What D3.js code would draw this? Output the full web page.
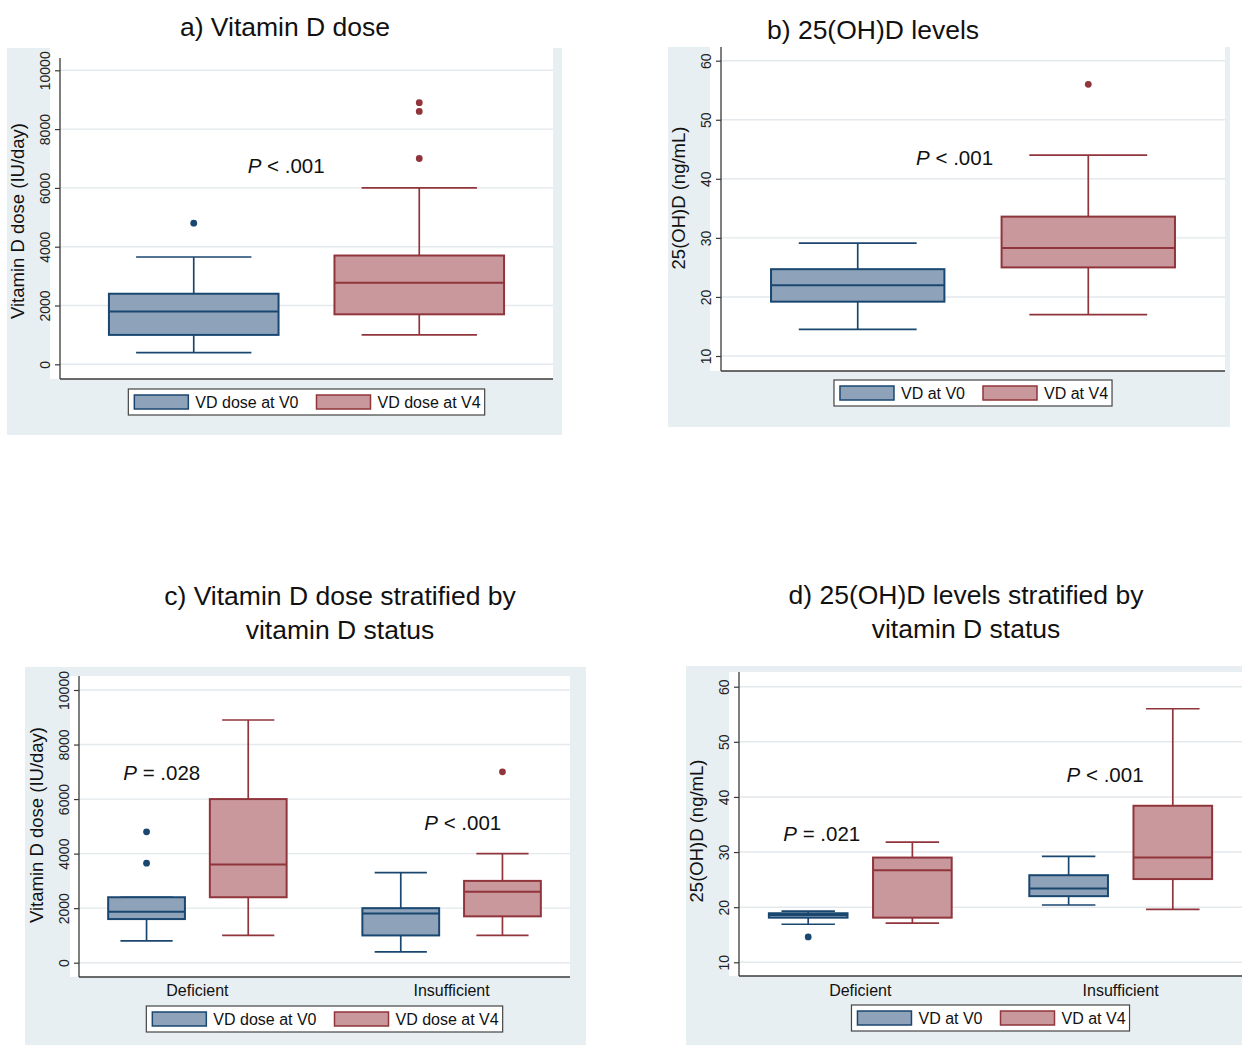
<!DOCTYPE html>
<html>
<head>
<meta charset="utf-8">
<script src="https://cdn.jsdelivr.net/npm/d3@7"></script>
<style>
body { margin: 0; background: #fff; }
svg { display: block; font-family: "Liberation Sans", Arial, sans-serif; }
</style>
</head>
<body>
<script>

// tick labels
var doseTicks = [0, 2000, 4000, 6000, 8000, 10000];
var levelTicks = [10, 20, 30, 40, 50, 60];

// series and categories
var doseSeries = ["VD dose at V0", "VD dose at V4"];
var levelSeries = ["VD at V0", "VD at V4"];
var statusCats = ["Deficient", "Insufficient"];

// box stats: [lower whisker, q1, median, q3, upper whisker]
var doseAll = [[400, 1000, 1800, 2400, 3650], [1000, 1700, 2770, 3700, 6000]];
var doseAllOut = [[4800], [7000, 8600, 8900]];

var levelAll = [[14.5, 19.2, 22.0, 24.7, 29.1], [17, 25, 28.3, 33.6, 44]];
var levelAllOut = [[], [56]];

// by status, one entry per category (Deficient, Insufficient)
var doseV0ByStatus = [[800, 1600, 1870, 2400, 2400], [400, 1000, 1800, 2000, 3300]];
var doseV4ByStatus = [[1000, 2400, 3600, 6000, 8900], [1000, 1700, 2600, 3000, 4000]];
var doseV0ByStatusOut = [[3650, 4800], []];
var doseV4ByStatusOut = [[], [7000]];

var levelV0ByStatus = [[16.9, 18.1, 18.6, 18.9, 19.3], [20.4, 22.0, 23.4, 25.8, 29.2]];
var levelV4ByStatus = [[17.1, 18.1, 26.7, 29.0, 31.8], [19.6, 25.1, 29.0, 38.4, 56.0]];
var levelV0ByStatusOut = [[14.6], []];
var levelV4ByStatusOut = [[], []];

// p-value notes: "at" is the height on the y scale, "between" goes from the V0 box (0) to the V4 box (1)
var pDose = [{ cat: null, op: "<", p: ".001", at: 6500, between: 0.41 }];
var pLevel = [{ cat: null, op: "<", p: ".001", at: 42.3, between: 0.42 }];
var pDoseStatus = [
    { cat: "Deficient", op: "=", p: ".028", at: 6700, between: 0.15 },
    { cat: "Insufficient", op: "<", p: ".001", at: 4850, between: 0.61 }
];
var pLevelStatus = [
    { cat: "Deficient", op: "=", p: ".021", at: 32.0, between: 0.13 },
    { cat: "Insufficient", op: "<", p: ".001", at: 42.7, between: 0.35 }
];

var BG = "#e8eff2",
    GRID = "#e3e9ec",
    AXIS = "#3a3a3a",
    STROKES = ["#1a476f", "#90353b"],
    FILLS = ["#8ea3ba", "#c9989d"];

var svg = d3.select("body").append("svg")
    .attr("width", 1242)
    .attr("height", 1045);

function boxesFlat(series, stats, outs) {
    return series.map(function(s, i) {
        return { cat: null, series: s, idx: i, stats: stats[i], out: outs[i] };
    });
}

function boxesByCat(series, statsBySeries, outsBySeries) {
    var list = [];
    statusCats.forEach(function(c, ci) {
        series.forEach(function(s, i) {
            list.push({ cat: c, series: s, idx: i, stats: statsBySeries[i][ci], out: outsBySeries[i][ci] });
        });
    });
    return list;
}

function drawPanel(p) {
    var g = svg.append("g");

    g.append("rect")
        .attr("x", p.bg[0]).attr("y", p.bg[1])
        .attr("width", p.bg[2] - p.bg[0]).attr("height", p.bg[3] - p.bg[1])
        .attr("fill", BG);
    g.append("rect")
        .attr("x", p.white[0]).attr("y", p.white[1])
        .attr("width", p.white[2] - p.white[0]).attr("height", p.white[3] - p.white[1])
        .attr("fill", "#fff");

    var right = p.white[2], bottom = p.white[3];
    var y = d3.scaleLinear().domain(p.yDomain).range(p.yRange);

    // x position of a box
    var outer, inner;
    if (p.cats) {
        outer = d3.scaleBand().domain(p.cats).range([p.axisX, right])
            .paddingInner(0.2).paddingOuter(0.0657);
        inner = d3.scaleBand().domain(p.series).range([0, outer.bandwidth()])
            .paddingInner(0.245).paddingOuter(0.1225);
    } else {
        inner = d3.scaleBand().domain(p.series).range([p.axisX, right])
            .paddingInner(0.248).paddingOuter(0.217);
    }
    var bw = inner.bandwidth();
    function cx(cat, s) {
        return (cat ? outer(cat) : 0) + inner(s) + bw / 2;
    }

    // grid
    g.append("g").selectAll("line")
        .data(p.ticks)
        .join("line")
        .attr("x1", p.axisX).attr("x2", right)
        .attr("y1", function(d) { return y(d); })
        .attr("y2", function(d) { return y(d); })
        .attr("stroke", GRID)
        .attr("stroke-width", 1.4);

    // y axis
    var ax = g.append("g")
        .attr("transform", "translate(" + p.axisX + ",0)")
        .call(d3.axisLeft(y).tickValues(p.ticks).tickFormat(d3.format("d")).tickSize(5).tickSizeOuter(0))
        .attr("font-size", null)
        .attr("font-family", null);
    ax.select(".domain").remove();
    ax.selectAll(".tick line").attr("stroke", AXIS).attr("stroke-width", 1.2);
    ax.selectAll(".tick text")
        .attr("transform", "rotate(-90)")
        .attr("x", 0).attr("y", -10).attr("dy", 0)
        .attr("text-anchor", "middle")
        .attr("font-size", 14)
        .attr("fill", "#222");

    g.append("line")
        .attr("x1", p.axisX).attr("x2", p.axisX)
        .attr("y1", p.axisTop).attr("y2", bottom)
        .attr("stroke", AXIS).attr("stroke-width", 1.3);
    g.append("line")
        .attr("x1", p.axisX).attr("x2", right)
        .attr("y1", bottom).attr("y2", bottom)
        .attr("stroke", AXIS).attr("stroke-width", 1.3);

    g.append("text")
        .attr("transform", "translate(" + (p.axisX - 36) + "," + p.labelY + ") rotate(-90)")
        .attr("text-anchor", "middle")
        .attr("font-size", 18.5)
        .attr("fill", "#111")
        .text(p.yLabel);

    // title
    p.title.forEach(function(t, i) {
        g.append("text")
            .attr("x", p.titleX).attr("y", p.titleY[i])
            .attr("text-anchor", "middle")
            .attr("font-size", 26.5)
            .attr("fill", "#111")
            .text(t);
    });

    // category labels
    if (p.cats) {
        g.append("g").selectAll("text")
            .data(p.cats)
            .join("text")
            .attr("x", function(d) { return outer(d) + outer.bandwidth() / 2; })
            .attr("y", p.catLabelY)
            .attr("text-anchor", "middle")
            .attr("font-size", 16)
            .attr("fill", "#111")
            .text(function(d) { return d; });
    }

    // boxes
    var box = g.append("g").selectAll("g")
        .data(p.boxes)
        .join("g");

    box.each(function(d) {
        var b = d3.select(this);
        var x0 = cx(d.cat, d.series);
        var st = d.stats;
        var col = STROKES[d.idx];
        var cap = bw * 0.68;

        b.append("line")
            .attr("x1", x0).attr("x2", x0)
            .attr("y1", y(st[0])).attr("y2", y(st[1]))
            .attr("stroke", col).attr("stroke-width", 1.7);
        b.append("line")
            .attr("x1", x0).attr("x2", x0)
            .attr("y1", y(st[3])).attr("y2", y(st[4]))
            .attr("stroke", col).attr("stroke-width", 1.7);
        [st[0], st[4]].forEach(function(v) {
            b.append("line")
                .attr("x1", x0 - cap / 2).attr("x2", x0 + cap / 2)
                .attr("y1", y(v)).attr("y2", y(v))
                .attr("stroke", col).attr("stroke-width", 1.7);
        });
        b.append("rect")
            .attr("x", x0 - bw / 2).attr("y", y(st[3]))
            .attr("width", bw).attr("height", y(st[1]) - y(st[3]))
            .attr("fill", FILLS[d.idx])
            .attr("stroke", col).attr("stroke-width", 2);
        b.append("line")
            .attr("x1", x0 - bw / 2).attr("x2", x0 + bw / 2)
            .attr("y1", y(st[2])).attr("y2", y(st[2]))
            .attr("stroke", col).attr("stroke-width", 2);
        b.selectAll("circle")
            .data(d.out)
            .join("circle")
            .attr("cx", x0)
            .attr("cy", function(v) { return y(v); })
            .attr("r", 3.4)
            .attr("fill", col);
    });

    // p-values
    p.notes.forEach(function(n) {
        var a = cx(n.cat, p.series[0]), b2 = cx(n.cat, p.series[1]);
        var t = g.append("text")
            .attr("x", a + (b2 - a) * n.between)
            .attr("y", y(n.at))
            .attr("text-anchor", "middle")
            .attr("font-size", 20.5)
            .attr("fill", "#111")
            .style("white-space", "pre");
        t.append("tspan").attr("font-style", "italic").text("P");
        t.append("tspan").text(" " + n.op + " " + n.p);
    });

    // legend
    var lg = g.append("g");
    var frame = lg.append("rect");
    var items = p.series.map(function(s, i) {
        var sw = lg.append("rect")
            .attr("width", 54).attr("height", 14)
            .attr("fill", FILLS[i])
            .attr("stroke", STROKES[i]).attr("stroke-width", 1.5);
        var tx = lg.append("text")
            .attr("font-size", 16)
            .attr("fill", "#111")
            .text(s);
        return { sw: sw, tx: tx, w: tx.node().getComputedTextLength() };
    });
    var total = 6 + items[0].w + items[1].w + 2 * (54 + 7) + 18 + 4;
    var lx = (p.axisX + right) / 2 - total / 2;
    var ly = p.legendTop;
    frame.attr("x", lx).attr("y", ly)
        .attr("width", total).attr("height", 26)
        .attr("fill", "#fff")
        .attr("stroke", "#444").attr("stroke-width", 1.2);
    var cur = lx + 6;
    items.forEach(function(it, i) {
        it.sw.attr("x", cur).attr("y", ly + 6);
        cur += 54 + 7;
        it.tx.attr("x", cur).attr("y", ly + 18.5);
        cur += it.w + 18;
    });
}

drawPanel({
    bg: [7, 48, 562, 435], white: [50, 48, 553, 379],
    axisX: 60, axisTop: 58,
    yDomain: [0, 10000], yRange: [364.3, 70.3], ticks: doseTicks,
    yLabel: "Vitamin D dose (IU/day)", labelY: 221,
    title: ["a) Vitamin D dose"], titleX: 285, titleY: [36],
    cats: null, series: doseSeries,
    boxes: boxesFlat(doseSeries, doseAll, doseAllOut),
    notes: pDose, legendTop: 389
});

drawPanel({
    bg: [668, 47, 1230, 427], white: [710, 47, 1225, 371],
    axisX: 721, axisTop: 47,
    yDomain: [10, 60], yRange: [356, 60.7], ticks: levelTicks,
    yLabel: "25(OH)D (ng/mL)", labelY: 198,
    title: ["b) 25(OH)D levels"], titleX: 873, titleY: [39],
    cats: null, series: levelSeries,
    boxes: boxesFlat(levelSeries, levelAll, levelAllOut),
    notes: pLevel, legendTop: 380
});

drawPanel({
    bg: [25, 667, 586, 1045], white: [70, 676, 570, 977],
    axisX: 79, axisTop: 676,
    yDomain: [0, 10000], yRange: [962.7, 690], ticks: doseTicks,
    yLabel: "Vitamin D dose (IU/day)", labelY: 825,
    title: ["c) Vitamin D dose stratified by", "vitamin D status"], titleX: 340, titleY: [605, 639],
    cats: statusCats, series: doseSeries, catLabelY: 996,
    boxes: boxesByCat(doseSeries, [doseV0ByStatus, doseV4ByStatus], [doseV0ByStatusOut, doseV4ByStatusOut]),
    notes: pDoseStatus, legendTop: 1006
});

drawPanel({
    bg: [686, 666, 1242, 1045], white: [729, 672, 1242, 976],
    axisX: 739, axisTop: 672,
    yDomain: [10, 60], yRange: [962.3, 686.7], ticks: levelTicks,
    yLabel: "25(OH)D (ng/mL)", labelY: 831,
    title: ["d) 25(OH)D levels stratified by", "vitamin D status"], titleX: 966, titleY: [604, 638],
    cats: statusCats, series: levelSeries, catLabelY: 996,
    boxes: boxesByCat(levelSeries, [levelV0ByStatus, levelV4ByStatus], [levelV0ByStatusOut, levelV4ByStatusOut]),
    notes: pLevelStatus, legendTop: 1005
});

</script>
</body>
</html>
